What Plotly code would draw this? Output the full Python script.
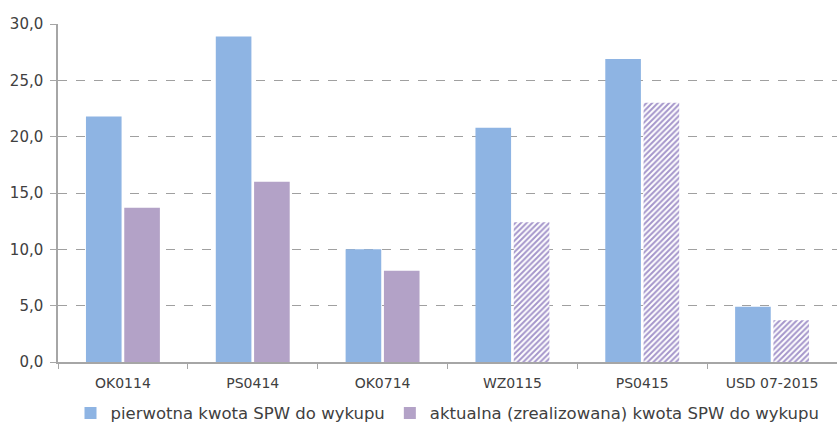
import plotly.graph_objects as go

categories = ["OK0114", "PS0414", "OK0714", "WZ0115", "PS0415", "USD 07-2015"]
pierwotna = [21.8, 28.9, 10.0, 20.8, 26.9, 4.9]
aktualna = [13.7, 16.0, 8.1, 12.4, 23.0, 3.7]
hatched = [False, False, False, True, True, True]

tick_vals = [0, 5, 10, 15, 20, 25, 30]
tick_text = ["0,0", "5,0", "10,0", "15,0", "20,0", "25,0", "30,0"]

blue = "#8EB4E3"
purple = "#B3A2C7"
hatch_line = "#A596CB"

fig = go.Figure()
fig.add_trace(go.Bar(
    x=categories, y=pierwotna,
    name="pierwotna kwota SPW do wykupu",
    marker=dict(color=blue, line=dict(width=0)),
))
fig.add_trace(go.Bar(
    x=categories, y=aktualna,
    name="aktualna (zrealizowana) kwota SPW do wykupu",
    marker=dict(
        color=purple,
        line=dict(width=0),
        pattern=dict(
            shape=[("/" if h else "") for h in hatched],
            fgcolor=hatch_line,
            bgcolor="white",
            fillmode="replace",
            size=4,
            solidity=0.5,
        ),
    ),
))

font_family = "DejaVu Sans, sans-serif"
fig.update_layout(
    width=837, height=427,
    margin=dict(l=58, r=0, t=24, b=65, autoexpand=False),
    paper_bgcolor="white", plot_bgcolor="white",
    barmode="group", bargap=0.41, bargroupgap=0.07,
    font=dict(family=font_family, size=14, color="#404040"),
    showlegend=True,
    legend=dict(
        orientation="h", x=0.5, xanchor="center", y=-0.1, yanchor="top",
        font=dict(size=16.5, color="#404040"),
        itemwidth=30, traceorder="normal",
    ),
    xaxis=dict(
        showline=True, linecolor="#A6A6A6", linewidth=1.5,
        ticks="outside", tickson="boundaries", ticklen=5, tickcolor="#A6A6A6",
        ticklabelstandoff=7,
        showgrid=False, tickfont=dict(size=14, color="#404040"),
        automargin=False,
    ),
    yaxis=dict(
        range=[0, 30], tickvals=tick_vals, ticktext=tick_text,
        showline=True, linecolor="#A6A6A6", linewidth=1.5,
        ticks="outside", ticklen=6, tickcolor="#A6A6A6",
        ticklabelstandoff=4,
        showgrid=True, gridcolor="#A0A0A0", griddash="dash", gridwidth=1,
        zeroline=False, tickfont=dict(size=15, color="#404040"),
        automargin=False,
    ),
)

fig.write_html("out.html")
